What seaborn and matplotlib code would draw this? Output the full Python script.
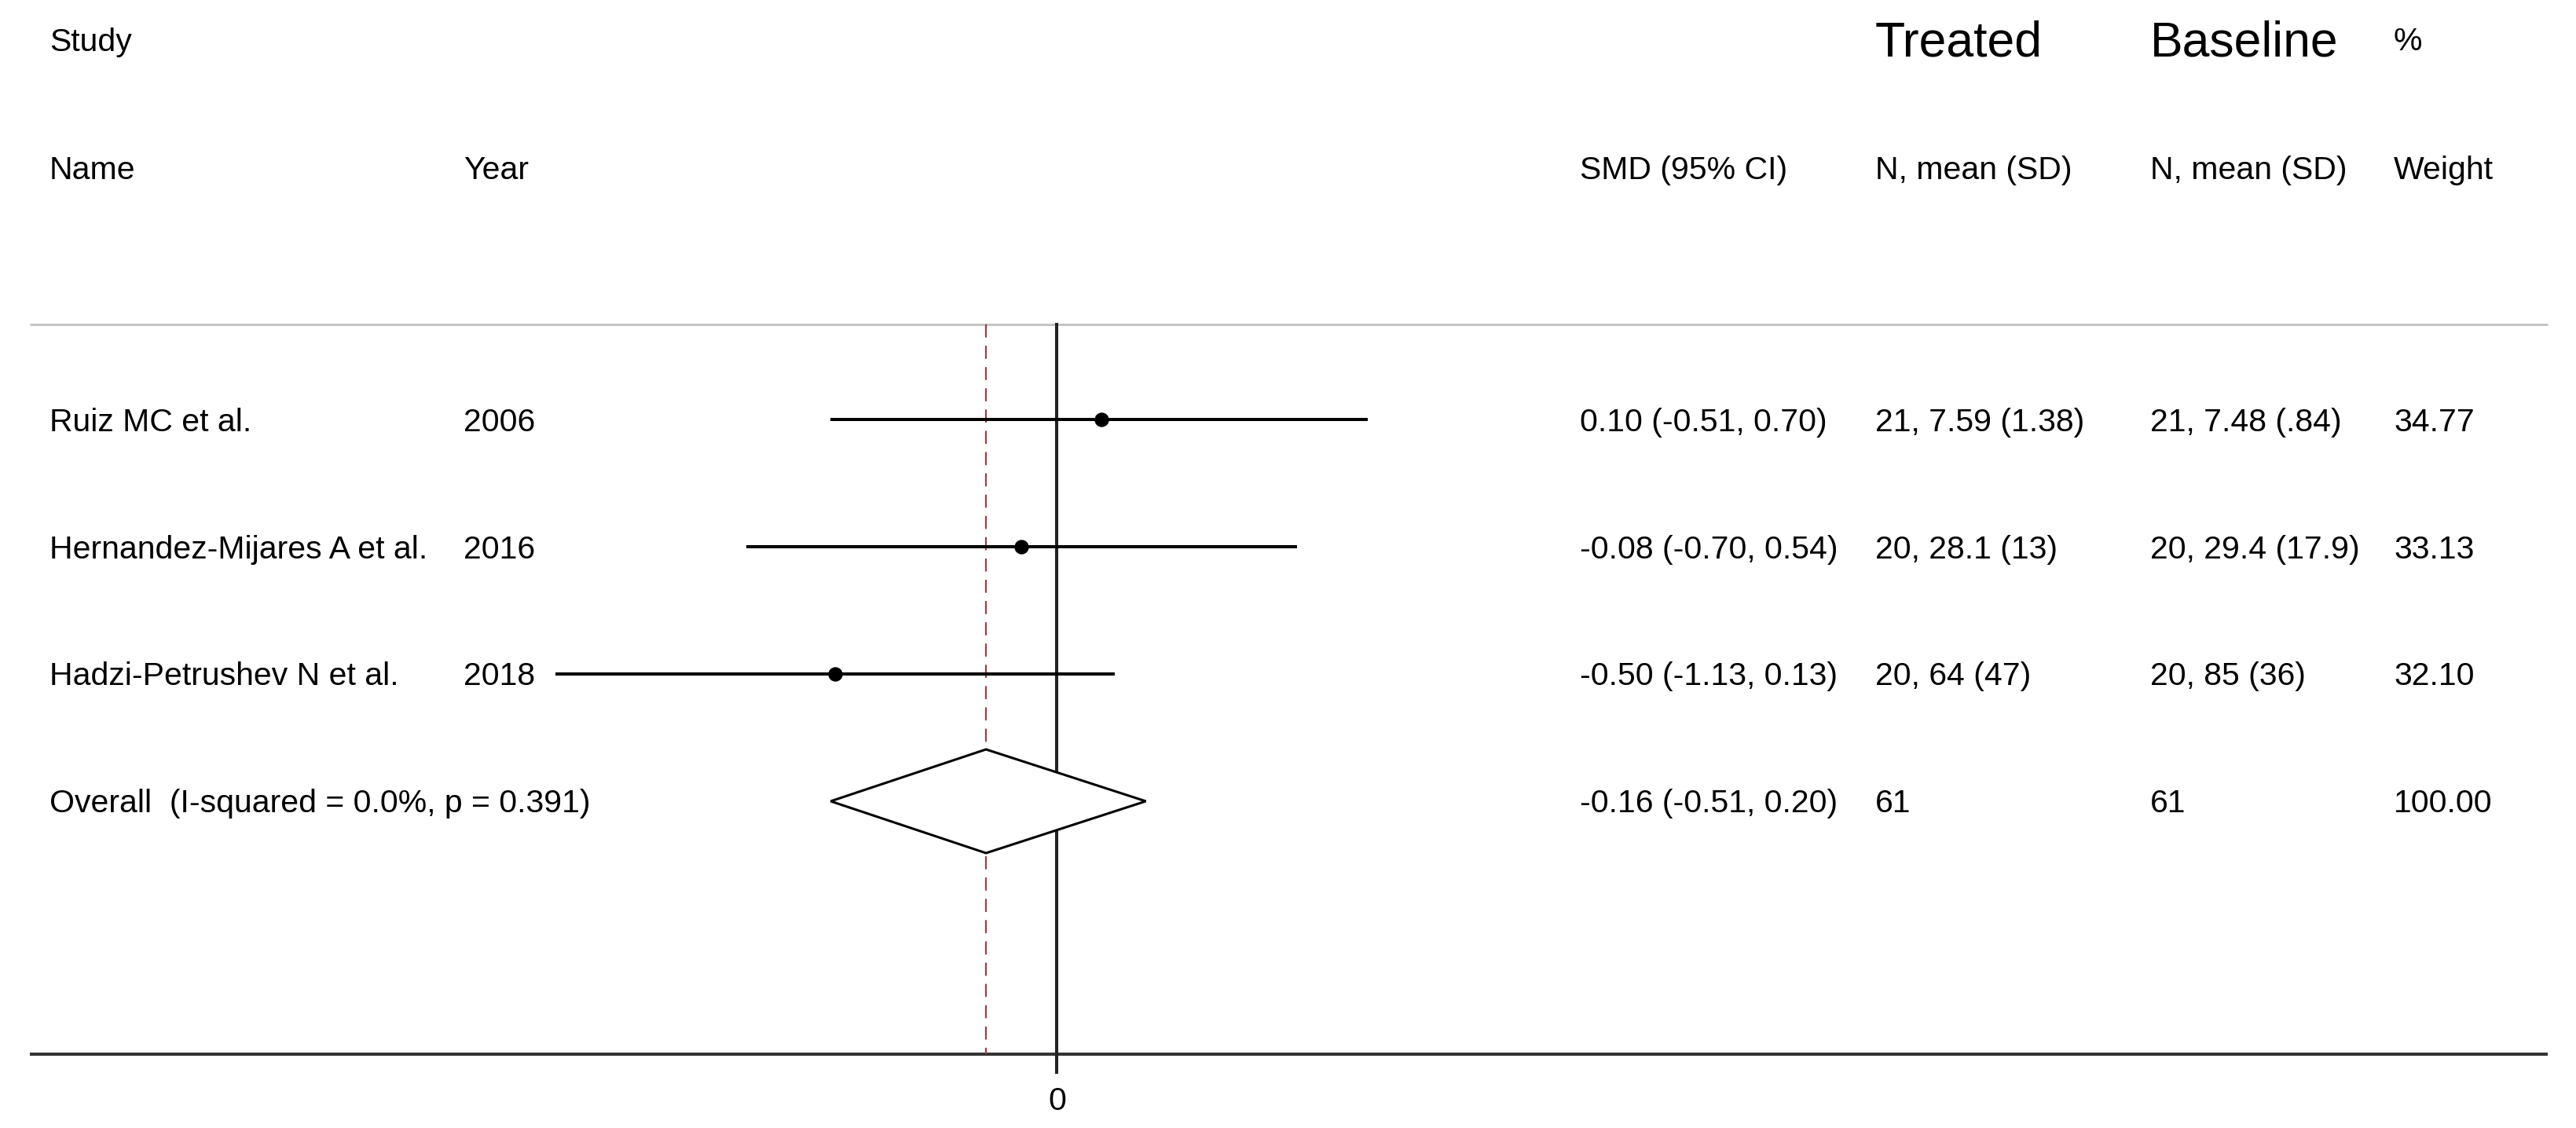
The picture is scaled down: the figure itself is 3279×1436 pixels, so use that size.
import numpy as np
import pandas as pd
import matplotlib
matplotlib.use("Agg")
import matplotlib.pyplot as plt
import matplotlib.transforms as mtransforms
import seaborn as sns

# study level data
study_names = ["Ruiz MC et al.", "Hernandez-Mijares A et al.", "Hadzi-Petrushev N et al."]
study_years = ["2006", "2016", "2018"]
smd = [0.10, -0.08, -0.50]
ci_low = [-0.51, -0.70, -1.13]
ci_high = [0.70, 0.54, 0.13]
smd_text = ["0.10 (-0.51, 0.70)", "-0.08 (-0.70, 0.54)", "-0.50 (-1.13, 0.13)"]
treated_text = ["21, 7.59 (1.38)", "20, 28.1 (13)", "20, 64 (47)"]
baseline_text = ["21, 7.48 (.84)", "20, 29.4 (17.9)", "20, 85 (36)"]
weight_text = ["34.77", "33.13", "32.10"]

# pooled estimate
overall_label = "Overall  (I-squared = 0.0%, p = 0.391)"
overall_smd = -0.16
overall_low = -0.51
overall_high = 0.20
overall_smd_text = "-0.16 (-0.51, 0.20)"
overall_treated = "61"
overall_baseline = "61"
overall_weight = "100.00"

W, H, DPI = 3280, 1436, 100
ROW0, ROWH = 534, 162     # pixel centre of first row and row spacing


def row(px):
    return (px - ROW0) / ROWH


sns.set_style("white")
plt.rcParams['font.family'] = ['Liberation Sans', 'DejaVu Sans']
plt.rcParams['text.color'] = 'black'

fig = plt.figure(figsize=(W / DPI, H / DPI), dpi=DPI)
ax = fig.add_axes([0, 0, 1, 1])
ax.set_axis_off()

ZERO_PX, UNIT_PX = 1345.5, 565.0
ax.set_xlim(-ZERO_PX / UNIT_PX, (W - ZERO_PX) / UNIT_PX)
ax.set_ylim(row(H), row(0))

df = pd.DataFrame({"study": study_names, "smd": smd, "lo": ci_low, "hi": ci_high,
                   "pos": np.arange(len(study_names))})

# confidence intervals and point estimates
ax.hlines(df["pos"], df["lo"], df["hi"], color="black", lw=2.9, zorder=3)
sns.scatterplot(data=df, x="smd", y="pos", ax=ax, color="black", s=150,
                edgecolor="black", zorder=4, legend=False)
ax.set_xlabel("")
ax.set_ylabel("")

# pooled diamond
opos = len(study_names)
half = 66 / ROWH
dx = [overall_low, overall_smd, overall_high, overall_smd, overall_low]
dy = [opos, opos - half, opos, opos + half, opos]
ax.fill(dx, dy, facecolor="white", edgecolor="black", lw=2.2, zorder=3)

# reference lines
x_left, x_right = (38 - ZERO_PX) / UNIT_PX, (3243 - ZERO_PX) / UNIT_PX
ax.hlines(row(412.5), x_left, x_right, color="#c4c4c4", lw=2.2, zorder=1)
ax.hlines(row(1342), x_left, x_right, color="#333333", lw=2.9, zorder=2)
ax.vlines(0, row(411), row(1367), color="#222222", lw=2.9, zorder=2)
ax.vlines(overall_smd, row(413), row(1342), color="#a8343f", lw=1.5,
          linestyles=(0, (8, 5)), zorder=2)
ax.text(0, row(1413), "0", ha="center", va="baseline", fontsize=29.5, color="black")

# text columns
tr = mtransforms.blended_transform_factory(ax.transAxes, ax.transData)
col = {"name": 63 / W, "year": 590 / W, "smd": 2011 / W,
       "treat": 2387 / W, "base": 2737 / W, "wt": 3047 / W}
fs = 29.5
bl = 14.5 / ROWH   # baseline offset from row centre


def put(xk, y, s, size=fs):
    ax.text(col[xk], y, s, transform=tr, ha="left", va="baseline",
            fontsize=size, color="black")


put("name", row(65), "Study")
put("treat", row(71), "Treated", 45)
put("base", row(71), "Baseline", 45)
put("wt", row(64), "%")
put("name", row(228), "Name")
put("year", row(228), "Year")
put("smd", row(228), "SMD (95% CI)")
put("treat", row(228), "N, mean (SD)")
put("base", row(228), "N, mean (SD)")
put("wt", row(228), "Weight")

for i in range(len(study_names)):
    put("name", i + bl, study_names[i])
    put("year", i + bl, study_years[i])
    put("smd", i + bl, smd_text[i])
    put("treat", i + bl, treated_text[i])
    put("base", i + bl, baseline_text[i])
    put("wt", i + bl, weight_text[i])

put("name", opos + bl, overall_label)
put("smd", opos + bl, overall_smd_text)
put("treat", opos + bl, overall_treated)
put("base", opos + bl, overall_baseline)
put("wt", opos + bl, overall_weight)

fig.savefig("out.png", dpi=DPI, facecolor="white")
